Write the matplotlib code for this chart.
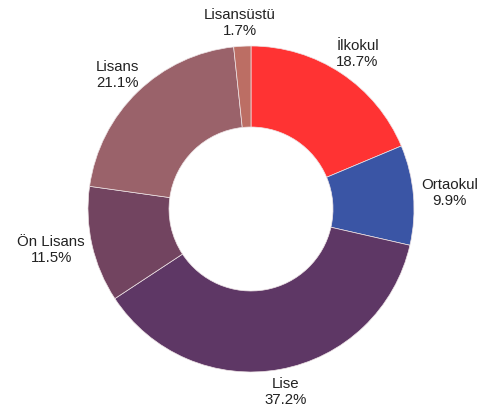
import numpy as np
import matplotlib
matplotlib.use("Agg")
import matplotlib.pyplot as plt

categories = ["İlkokul", "Ortaokul", "Lise", "Ön Lisans", "Lisans", "Lisansüstü"]
values = [18.7, 9.9, 37.2, 11.5, 21.1, 1.7]
colors = ["#FF3333", "#3A55A5", "#5E3765", "#724460", "#9A626A", "#BC6E64"]

W, H = 492, 412
fig = plt.figure(figsize=(W / 100, H / 100), dpi=100)
ax = fig.add_axes([0, 0, 1, 1])
cx, cy = 251, H - 209

R = 163
wedges, _ = ax.pie(values, colors=colors, startangle=90, counterclock=False,
                   radius=R, center=(0, 0),
                   wedgeprops=dict(width=R * 0.497, edgecolor="#eee4e6", linewidth=0.5))
ax.set_xlim(-cx, W - cx)
ax.set_ylim(-cy, H - cy)
ax.set_aspect("equal")
ax.axis("off")

fig.canvas.draw()
renderer = fig.canvas.get_renderer()
anchor_r = R + 8
for w, cat, v in zip(wedges, categories, values):
    ang = np.deg2rad((w.theta1 + w.theta2) / 2)
    t = ax.text(0, 0, f"{cat}\n{v:.1f}%", ha="center", va="center",
                fontsize=10.8, family=["Liberation Sans", "DejaVu Sans"],
                color="#222222", linespacing=1.2)
    bb = t.get_window_extent(renderer)
    hw, hh = bb.width / 2, bb.height / 2
    x = anchor_r * np.cos(ang) + hw * np.cos(ang)
    y = anchor_r * np.sin(ang) + hh * np.sin(ang)
    t.set_position((x, y))

fig.savefig("out.png", dpi=100)
